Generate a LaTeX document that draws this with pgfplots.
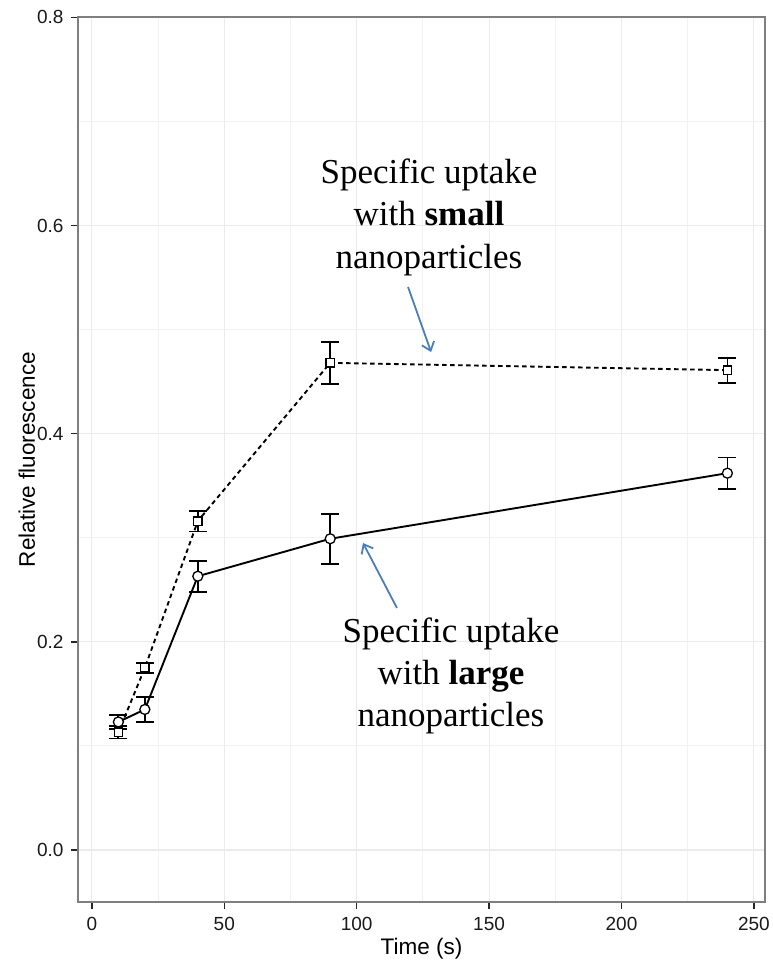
\documentclass[border=0pt]{standalone}
\usepackage{pgfplots}
\pgfplotsset{compat=1.18}
\usepackage{pgfplotstable}
\usepackage{fontspec}
\setmainfont{Liberation Sans}
\newfontfamily\annfont{Liberation Serif}
\usetikzlibrary{arrows.meta}
\definecolor{axisgray}{HTML}{7F7F7F}
\definecolor{gridmajor}{HTML}{EBEBEB}
\definecolor{gridminor}{HTML}{F2F2F2}
\definecolor{arrowblue}{HTML}{4A7EBB}

% uptake with small nanoparticles: time, mean, error
\pgfplotstableread{
t    m      e
10   0.113  0.006
20   0.175  0.005
40   0.316  0.010
90   0.468  0.020
240  0.461  0.012
}\smalltab

% uptake with large nanoparticles: time, mean, error
\pgfplotstableread{
t    m      e
10   0.123  0.007
20   0.135  0.012
40   0.263  0.015
90   0.299  0.024
240  0.362  0.015
}\largetab

\begin{document}
\begin{tikzpicture}
\useasboundingbox (-78pt,-59pt) rectangle (695pt,902pt);
\begin{axis}[
  at={(0pt,0pt)}, anchor=south west,
  scale only axis, width=687pt, height=885pt,
  xmin=-5.25, xmax=254.2, ymin=-0.05, ymax=0.8003,
  xtick={0,50,100,150,200,250},
  ytick={0,0.2,0.4,0.6,0.8},
  minor xtick={25,75,125,175,225},
  minor ytick={0.1,0.3,0.5,0.7},
  grid=both,
  major grid style={gridmajor, line width=1.1pt},
  minor grid style={gridminor, line width=0.9pt},
  axis line style={axisgray, line width=1.6pt},
  tick align=outside,
  major tick length=7pt, minor tick length=0pt,
  tick style={black!85, line width=1.5pt},
  xtick pos=bottom, ytick pos=left,
  /pgf/number format/assume math mode=true,
  ticklabel style={font=\fontsize{19}{21}\selectfont, text=black!90},
  xticklabel style={yshift=-5pt},
  yticklabel style={xshift=-4pt, /pgf/number format/fixed, /pgf/number format/fixed zerofill, /pgf/number format/precision=1},
  xlabel={Time (s)},
  ylabel={Relative fluorescence},
  label style={font=\fontsize{22.5}{26}\selectfont},
  xlabel style={at={([yshift=-52pt]axis description cs:0.5,0)}, anchor=base},
  ylabel style={at={([xshift=-43pt]axis description cs:0,0.5)}, anchor=base},
  clip=false,
]
% error bars
\addplot[only marks, mark=none, forget plot,
  error bars/.cd, y dir=both, y explicit,
  error bar style={line width=1.8pt, black},
  error mark options={rotate=90, line width=1.8pt, black, mark size=9pt}]
  table[x=t, y=m, y error=e] {\smalltab};
\addplot[only marks, mark=none, forget plot,
  error bars/.cd, y dir=both, y explicit,
  error bar style={line width=1.8pt, black},
  error mark options={rotate=90, line width=1.8pt, black, mark size=9pt}]
  table[x=t, y=m, y error=e] {\largetab};
% means
\addplot[black, line width=1.9pt, dash pattern=on 4.5pt off 3.5pt,
  mark=square*, mark size=4.2pt,
  mark options={solid, fill=white, line width=1.3pt}]
  table[x=t, y=m] {\smalltab};
\addplot[black, line width=1.9pt,
  mark=*, mark size=5pt,
  mark options={solid, fill=white, line width=1.3pt}]
  table[x=t, y=m] {\largetab};
% annotations
\node[anchor=base, font=\annfont\fontsize{35}{42}\selectfont] at (axis cs:127.3,0.6408) {Specific uptake};
\node[anchor=base, font=\annfont\fontsize{35}{42}\selectfont] at (axis cs:127.3,0.5995) {with \textbf{small}};
\node[anchor=base, font=\annfont\fontsize{35}{42}\selectfont] at (axis cs:127.3,0.5582) {nanoparticles};
\draw[arrowblue, line width=1.8pt, -{Straight Barb[length=8pt, width=13pt]}] (axis cs:119.4,0.5409) -- (axis cs:128.1,0.4784);
\node[anchor=base, font=\annfont\fontsize{35}{42}\selectfont] at (axis cs:135.6,0.1998) {Specific uptake};
\node[anchor=base, font=\annfont\fontsize{35}{42}\selectfont] at (axis cs:135.6,0.1585) {with \textbf{large}};
\node[anchor=base, font=\annfont\fontsize{35}{42}\selectfont] at (axis cs:135.6,0.1182) {nanoparticles};
\draw[arrowblue, line width=1.8pt, -{Straight Barb[length=8pt, width=13pt]}] (axis cs:115.2,0.2325) -- (axis cs:102.4,0.2949);
\end{axis}
\end{tikzpicture}
\end{document}
